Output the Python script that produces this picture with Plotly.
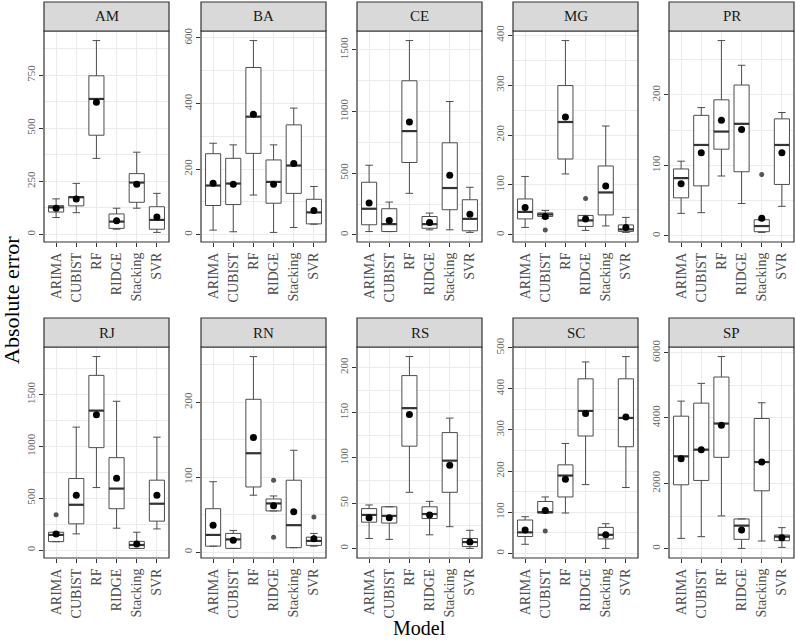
import plotly.graph_objects as go

# ---------------- data ----------------
models = ["ARIMA", "CUBIST", "RF", "RIDGE", "Stacking", "SVR"]
states = ["AM", "BA", "CE", "MG", "PR", "RJ", "RN", "RS", "SC", "SP"]

whisker_low = [
    [79, 102, 358, 24, 123, 9],
    [14, 9, 121, 7, 22, 32],
    [27, 27, 337, 41, 41, 20],
    [15, 33, 122, 9, 18, 5],
    [32, 33, 85, 46, 5, 42],
    [81, 156, 603, 211, 16, 204],
    [8, 5, 76, 55, 6, 8],
    [11, 10, 62, 15, 24, 0],
    [22, 98, 98, 167, 12, 160],
    [317, 369, 1004, 10, 236, 41],
]
box_q1 = [
    [105, 134, 467, 28, 151, 24],
    [89, 92, 248, 96, 126, 33],
    [82, 27, 587, 54, 204, 33],
    [32, 37, 152, 17, 40, 7],
    [54, 71, 123, 91, 6, 73],
    [81, 253, 988, 399, 16, 279],
    [8, 5, 87, 55, 6, 9],
    [29, 28, 113, 33, 62, 2],
    [41, 98, 137, 285, 35, 259],
    [1956, 2089, 2796, 287, 1772, 246],
]
box_median = [
    [127, 175, 638, 60, 244, 68],
    [150, 156, 360, 161, 211, 68],
    [212, 87, 842, 87, 380, 130],
    [46, 41, 226, 29, 85, 11],
    [82, 129, 148, 159, 14, 129],
    [146, 437, 1345, 593, 49, 447],
    [23, 17, 132, 65, 36, 15],
    [37, 36, 155, 38, 97, 7],
    [51, 100, 189, 346, 45, 329],
    [2826, 3031, 3830, 707, 2652, 369],
]
box_q3 = [
    [135, 178, 747, 96, 286, 130],
    [247, 233, 510, 228, 335, 108],
    [427, 212, 1250, 149, 747, 285],
    [72, 44, 299, 39, 138, 20],
    [95, 171, 193, 214, 23, 166],
    [172, 690, 1685, 891, 84, 674],
    [58, 25, 204, 71, 96, 20],
    [44, 46, 191, 46, 128, 11],
    [81, 126, 215, 424, 63, 424],
    [4055, 4455, 5253, 911, 3984, 420],
]
whisker_high = [
    [167, 240, 913, 123, 387, 193],
    [279, 274, 592, 274, 386, 147],
    [565, 266, 1576, 177, 1082, 386],
    [117, 49, 389, 37, 218, 35],
    [106, 182, 277, 242, 23, 175],
    [172, 1186, 1866, 1435, 172, 1089],
    [94, 29, 261, 75, 136, 25],
    [48, 46, 212, 52, 144, 20],
    [89, 137, 267, 465, 72, 478],
    [4516, 5059, 5878, 911, 4465, 645],
]
mean_value = [
    [123, 167, 623, 64, 236, 82],
    [157, 154, 367, 154, 217, 74],
    [258, 117, 916, 100, 484, 168],
    [55, 37, 236, 32, 98, 15],
    [74, 118, 164, 151, 25, 118],
    [156, 528, 1306, 693, 58, 528],
    [36, 16, 153, 62, 54, 18],
    [34, 34, 148, 37, 92, 7],
    [57, 104, 180, 340, 45, 331],
    [2755, 3031, 3779, 573, 2652, 338],
]
outlier_state = ["MG", "MG", "PR", "RJ", "RN", "RN", "RN", "SC"]
outlier_model = ["CUBIST", "RIDGE", "Stacking", "ARIMA", "RIDGE", "RIDGE", "SVR", "CUBIST"]
outlier_value = [10, 73, 87, 340, 96, 20, 47, 54]
tick_step = [250, 200, 500, 100, 100, 500, 100, 50, 100, 2000]

# ---------------- layout geometry ----------------
W, H = 796, 642
FONT = "Liberation Serif"
col_left = [44, 201, 357, 513, 669]
panel_w = 125
row_top = [31, 347]
row_bottom = [242, 558]
strip_h = 29
BOX_W = 0.75

fig = go.Figure()
shapes = []
annotations = []

for k, st in enumerate(states):
    r, c = divmod(k, 5)
    xs = "x" if k == 0 else f"x{k+1}"
    ys = "y" if k == 0 else f"y{k+1}"
    xkey = "xaxis" if k == 0 else f"xaxis{k+1}"
    ykey = "yaxis" if k == 0 else f"yaxis{k+1}"
    pos = list(range(len(models)))

    fig.add_trace(go.Box(
        x=pos, q1=box_q1[k], median=box_median[k], q3=box_q3[k],
        lowerfence=whisker_low[k], upperfence=whisker_high[k],
        xaxis=xs, yaxis=ys, width=BOX_W, fillcolor="white",
        line=dict(color="#4d4d4d", width=1), boxpoints=False,
        hoverinfo="skip", showlegend=False))

    mx, my = [], []
    for i, m in enumerate(box_median[k]):
        mx += [i - BOX_W / 2, i + BOX_W / 2, None]
        my += [m, m, None]
    fig.add_trace(go.Scatter(x=mx, y=my, mode="lines", xaxis=xs, yaxis=ys,
                             line=dict(color="#333333", width=2.2),
                             hoverinfo="skip", showlegend=False))

    ox = [models.index(m) for s, m in zip(outlier_state, outlier_model) if s == st]
    oy = [v for s, v in zip(outlier_state, outlier_value) if s == st]
    vals_all = whisker_low[k] + whisker_high[k] + oy
    if ox:
        fig.add_trace(go.Scatter(x=ox, y=oy, mode="markers", xaxis=xs, yaxis=ys,
                                 marker=dict(color="#555555", size=5),
                                 hoverinfo="skip", showlegend=False))

    fig.add_trace(go.Scatter(x=pos, y=mean_value[k], mode="markers", xaxis=xs, yaxis=ys,
                             marker=dict(color="black", size=7),
                             hoverinfo="skip", showlegend=False))

    lo, hi = min(vals_all), max(vals_all)
    pad = 0.05 * (hi - lo)
    x0 = col_left[c] / W
    x1 = (col_left[c] + panel_w) / W
    y0 = 1 - row_bottom[r] / H
    y1 = 1 - row_top[r] / H

    fig.layout[xkey] = dict(
        domain=[x0, x1], anchor=ys, range=[-0.6, len(models) - 0.4],
        tickvals=pos, ticktext=models, tickangle=-90, automargin=False,
        ticks="outside", ticklen=4, tickcolor="#333333", tickwidth=1,
        tickfont=dict(family=FONT, size=14, color="#4d4d4d"),
        showgrid=True, gridcolor="#EBEBEB", gridwidth=1,
        zeroline=False, showline=False, fixedrange=True)
    fig.layout[ykey] = dict(
        domain=[y0, y1], anchor=xs, range=[lo - pad, hi + pad],
        tick0=0, dtick=tick_step[k], tickangle=-90, automargin=False,
        ticks="outside", ticklen=4, tickcolor="#333333", tickwidth=1,
        tickfont=dict(family=FONT, size=11, color="#666666"),
        showgrid=True, gridcolor="#EBEBEB", gridwidth=1,
        minor=dict(tick0=0, dtick=tick_step[k] / 2, showgrid=True,
                   gridcolor="#EBEBEB", gridwidth=0.5, ticklen=0),
        zeroline=False, showline=False, fixedrange=True)

    shapes.append(dict(type="rect", xref="paper", yref="paper",
                       x0=x0, x1=x1, y0=y0, y1=y1, layer="above",
                       line=dict(color="#333333", width=1.2),
                       fillcolor="rgba(0,0,0,0)"))
    sy0 = y1
    sy1 = 1 - (row_top[r] - strip_h) / H
    shapes.append(dict(type="rect", xref="paper", yref="paper",
                       x0=x0, x1=x1, y0=sy0, y1=sy1, layer="above",
                       line=dict(color="#333333", width=1.2),
                       fillcolor="#D9D9D9"))
    annotations.append(dict(text=st, xref="paper", yref="paper",
                            x=(x0 + x1) / 2, y=(sy0 + sy1) / 2,
                            xanchor="center", yanchor="middle", showarrow=False,
                            font=dict(family=FONT, size=15, color="#1a1a1a")))

annotations.append(dict(text="Absolute error", xref="paper", yref="paper",
                        x=11 / W, y=1 - 300 / H, textangle=-90,
                        xanchor="center", yanchor="middle", showarrow=False,
                        font=dict(family=FONT, size=22, color="black")))
annotations.append(dict(text="Model", xref="paper", yref="paper",
                        x=(col_left[0] + col_left[-1] + panel_w) / 2 / W, y=1 - 628 / H,
                        xanchor="center", yanchor="middle", showarrow=False,
                        font=dict(family=FONT, size=20, color="black")))

fig.update_layout(width=W, height=H, margin=dict(l=0, r=0, t=0, b=0),
                  paper_bgcolor="white", plot_bgcolor="white",
                  shapes=shapes, annotations=annotations, showlegend=False,
                  font=dict(family=FONT))

fig.write_html("out.html", config={"displayModeBar": False},
               post_script="document.body.style.margin='0';"
                           "document.body.style.overflow='hidden';")
